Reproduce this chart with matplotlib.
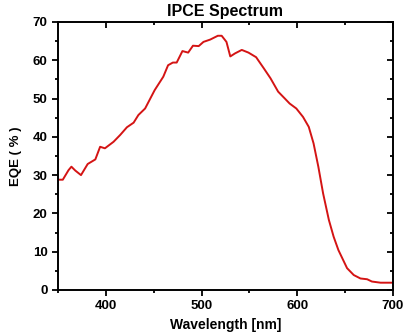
import matplotlib.pyplot as plt
from matplotlib.ticker import MultipleLocator

plt.rcParams['font.family'] = ['Liberation Sans', 'DejaVu Sans']

wavelength = [350, 355, 361, 364, 368, 374, 381, 389, 394, 399, 408, 415, 422, 429,
              434, 441, 451, 460, 465, 470, 474, 480, 486, 491, 497, 502, 509, 517,
              521, 526, 530, 535, 542, 549, 557, 565, 572, 580, 587, 592, 599, 606,
              612, 617, 622, 627, 633, 638, 643, 652, 659, 666, 673, 678, 687, 700]
eqe = [28.8, 28.8, 31.3, 32.2, 31.2, 30.0, 32.9, 34.1, 37.4, 37.0, 38.7, 40.5, 42.5, 43.7,
       45.7, 47.4, 52.2, 55.7, 58.7, 59.4, 59.4, 62.4, 62.0, 63.8, 63.7, 64.8, 65.4, 66.4,
       66.4, 64.8, 61.0, 61.8, 62.7, 62.0, 60.8, 57.9, 55.3, 51.8, 50.0, 48.7, 47.4, 45.2,
       42.6, 38.3, 32.2, 25.2, 18.3, 13.9, 10.4, 5.7, 3.9, 3.0, 2.8, 2.2, 1.9, 1.9]

fig = plt.figure(figsize=(4.1, 3.36), dpi=100)
ax = fig.add_axes([0.1415, 0.137, 0.817, 0.7976])

ax.plot(wavelength, eqe, color='#d41414', lw=1.4)

ax.set_xlim(350, 700)
ax.set_ylim(0, 70)
ax.xaxis.set_major_locator(MultipleLocator(100))
ax.xaxis.set_minor_locator(MultipleLocator(50))
ax.yaxis.set_major_locator(MultipleLocator(10))
ax.yaxis.set_minor_locator(MultipleLocator(5))

# bottom/left ticks point out, top/right point in
ax.tick_params(which='both', bottom=True, left=True, top=False, right=False,
               direction='out', width=1.3, labelsize=9.5)
ax.tick_params(which='major', length=4)
ax.tick_params(which='minor', length=2.5)
for lab in ax.get_xticklabels() + ax.get_yticklabels():
    lab.set_fontweight('bold')

sec_x = ax.secondary_xaxis('top')
sec_x.xaxis.set_major_locator(MultipleLocator(100))
sec_x.xaxis.set_minor_locator(MultipleLocator(50))
sec_x.tick_params(which='both', direction='in', width=1.3, labeltop=False)
sec_x.tick_params(which='major', length=4)
sec_x.tick_params(which='minor', length=2.5)
sec_y = ax.secondary_yaxis('right')
sec_y.yaxis.set_major_locator(MultipleLocator(10))
sec_y.yaxis.set_minor_locator(MultipleLocator(5))
sec_y.tick_params(which='both', direction='in', width=1.3, labelright=False)
sec_y.tick_params(which='major', length=4)
sec_y.tick_params(which='minor', length=2.5)

for sp in ax.spines.values():
    sp.set_linewidth(1.4)
sec_x.spines['top'].set_visible(False)
sec_y.spines['right'].set_visible(False)

ax.set_title('IPCE Spectrum', fontsize=11.5, fontweight='bold', pad=4)
ax.set_xlabel('Wavelength [nm]', fontsize=10, fontweight='bold', labelpad=4)
ax.set_ylabel('EQE ( % )', fontsize=9.5, fontweight='bold', labelpad=8)

fig.savefig('out.png', dpi=100)
